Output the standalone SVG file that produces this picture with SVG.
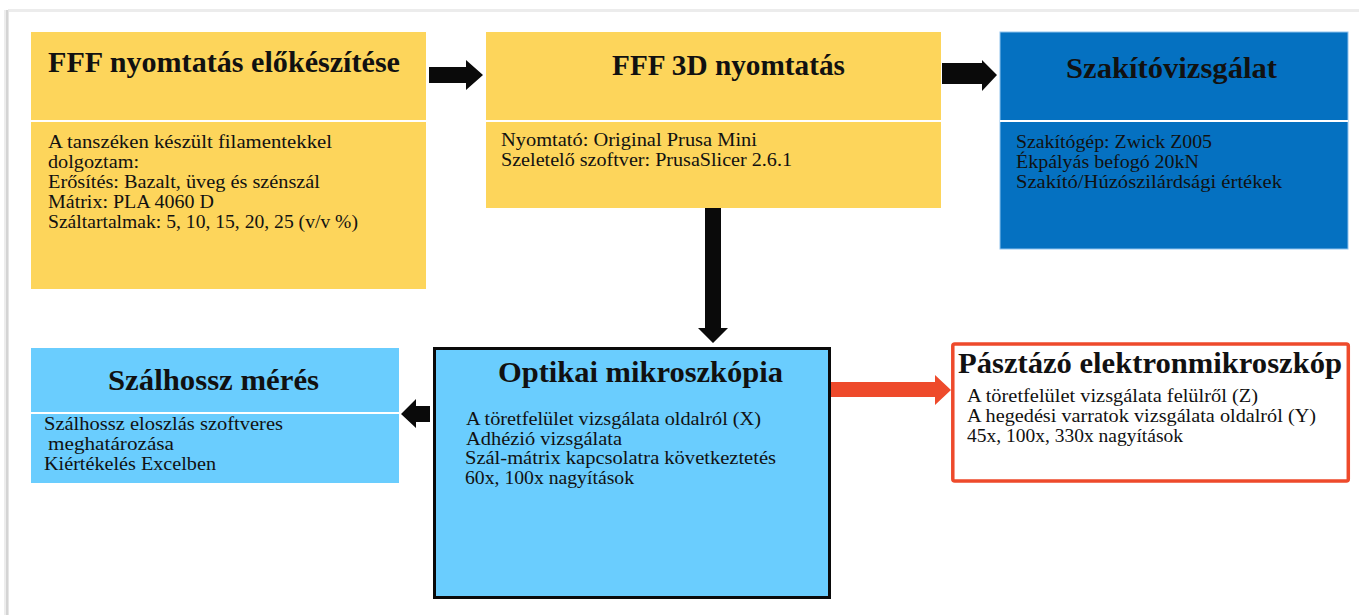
<svg xmlns="http://www.w3.org/2000/svg" width="1359" height="615" viewBox="0 0 1359 615">
<style>
.t{font-family:"Liberation Serif","Times New Roman",serif;font-weight:bold;font-size:30px;fill:#111}
.b{font-family:"Liberation Serif","Times New Roman",serif;font-size:19px;fill:#111}
.y{fill:#FDD55B}
.db{fill:#0571C1}
.lb{fill:#6ACDFE}
.div{stroke:#ffffff;stroke-width:2}
.arr{fill:#0a0a0a}
</style>
<rect x="0" y="0" width="1359" height="615" fill="#ffffff"/>
<rect x="8" y="9" width="1351" height="3" fill="#ececec"/>
<rect x="4" y="10" width="2" height="605" fill="#ededed"/>
<rect x="6" y="10" width="2" height="605" fill="#d4d4d4"/>
<rect x="8" y="10" width="1" height="605" fill="#e6e6e6"/>

<g id="node-prep">
<rect class="y" x="31" y="32" width="395" height="257"/>
<line class="div" x1="31" y1="121" x2="426" y2="121"/>
<text class="t" x="48" y="72" textLength="352" lengthAdjust="spacingAndGlyphs">FFF nyomtatás előkészítése</text>
<text class="b" x="48" y="148" textLength="284" lengthAdjust="spacingAndGlyphs">A tanszéken készült filamentekkel</text>
<text class="b" x="48" y="168" textLength="91" lengthAdjust="spacingAndGlyphs">dolgoztam:</text>
<text class="b" x="48" y="188" textLength="272" lengthAdjust="spacingAndGlyphs">Erősítés: Bazalt, üveg és szénszál</text>
<text class="b" x="48" y="208" textLength="166" lengthAdjust="spacingAndGlyphs">Mátrix: PLA 4060 D</text>
<text class="b" x="48" y="228" textLength="310" lengthAdjust="spacingAndGlyphs">Száltartalmak: 5, 10, 15, 20, 25 (v/v %)</text>
</g>

<g id="node-print">
<rect class="y" x="486" y="32" width="455" height="176"/>
<line class="div" x1="486" y1="121" x2="941" y2="121"/>
<text class="t" x="612" y="75" textLength="233" lengthAdjust="spacingAndGlyphs">FFF 3D nyomtatás</text>
<text class="b" x="501" y="146" textLength="256" lengthAdjust="spacingAndGlyphs">Nyomtató: Original Prusa Mini</text>
<text class="b" x="501" y="166" textLength="291" lengthAdjust="spacingAndGlyphs">Szeletelő szoftver: PrusaSlicer 2.6.1</text>
</g>

<g id="node-tensile">
<rect class="db" x="1000" y="32" width="348" height="217" stroke="#8fc3ee" stroke-width="1"/>
<line class="div" x1="1000" y1="121" x2="1348" y2="121" stroke="#a8d0f0"/>
<text class="t" x="1066" y="78" textLength="211" lengthAdjust="spacingAndGlyphs">Szakítóvizsgálat</text>
<text class="b" x="1016" y="148" textLength="196" lengthAdjust="spacingAndGlyphs">Szakítógép: Zwick Z005</text>
<text class="b" x="1016" y="168" textLength="183" lengthAdjust="spacingAndGlyphs">Ékpályás befogó 20kN</text>
<text class="b" x="1016" y="188" textLength="266" lengthAdjust="spacingAndGlyphs">Szakító/Húzószilárdsági értékek</text>
</g>

<g id="node-fiberlength">
<rect class="lb" x="31" y="348" width="368" height="135"/>
<line class="div" x1="31" y1="413" x2="399" y2="413"/>
<text class="t" x="108" y="390" textLength="211" lengthAdjust="spacingAndGlyphs">Szálhossz mérés</text>
<text class="b" x="44" y="430" textLength="239" lengthAdjust="spacingAndGlyphs">Szálhossz eloszlás szoftveres</text>
<text class="b" x="48" y="450" textLength="126" lengthAdjust="spacingAndGlyphs">meghatározása</text>
<text class="b" x="44" y="470" textLength="172" lengthAdjust="spacingAndGlyphs">Kiértékelés Excelben</text>
</g>

<g id="node-optical">
<rect class="lb" x="434.5" y="348.5" width="395" height="249" stroke="#0a0a0a" stroke-width="3"/>
<text class="t" x="498" y="382" textLength="285" lengthAdjust="spacingAndGlyphs">Optikai mikroszkópia</text>
<text class="b" x="466" y="425" textLength="295" lengthAdjust="spacingAndGlyphs">A töretfelület vizsgálata oldalról (X)</text>
<text class="b" x="466" y="444.5" textLength="156" lengthAdjust="spacingAndGlyphs">Adhézió vizsgálata</text>
<text class="b" x="465" y="464" textLength="311" lengthAdjust="spacingAndGlyphs">Szál-mátrix kapcsolatra következtetés</text>
<text class="b" x="465" y="483.5" textLength="169" lengthAdjust="spacingAndGlyphs">60x, 100x nagyítások</text>
</g>

<g id="node-sem">
<rect x="952.8" y="344" width="395.5" height="137" rx="2" fill="#ffffff" stroke="#EE4A2B" stroke-width="3.5"/>
<text class="t" x="958" y="373" textLength="384" lengthAdjust="spacingAndGlyphs">Pásztázó elektronmikroszkóp</text>
<text class="b" x="967" y="402" textLength="291" lengthAdjust="spacingAndGlyphs">A töretfelület vizsgálata felülről (Z)</text>
<text class="b" x="967" y="422" textLength="349" lengthAdjust="spacingAndGlyphs">A hegedési varratok vizsgálata oldalról (Y)</text>
<text class="b" x="967" y="442" textLength="216" lengthAdjust="spacingAndGlyphs">45x, 100x, 330x nagyítások</text>
</g>

<g id="connectors">
<polygon class="arr" points="429,67 466,67 466,60 483,75 466,90 466,83 429,83"/>
<polygon class="arr" points="942,63 982,63 982,60 997,75 982,91 982,84 942,84"/>
<polygon class="arr" points="705,208 721,208 721,328 728,328 713,343 698,328 705,328"/>
<polygon class="arr" points="430,406 416,406 416,399 401,414 416,428 416,422 430,422"/>
<polygon fill="#EE4A2B" points="831,382 935,382 935,375 951,390 935,405 935,397 831,397"/>
</g>
</svg>
